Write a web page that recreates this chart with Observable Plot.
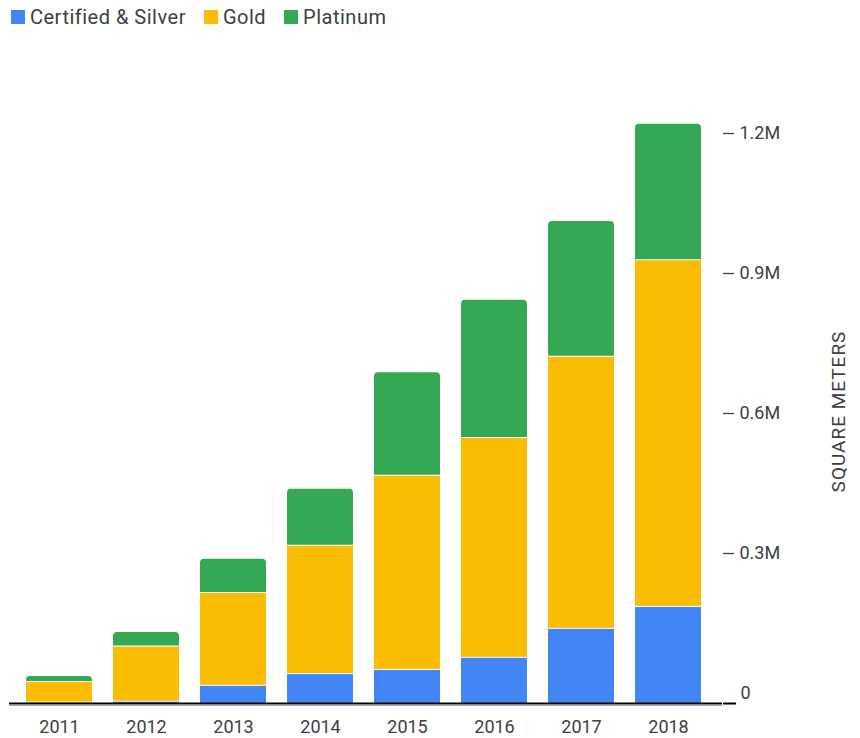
<!DOCTYPE html>
<html>
<head>
<meta charset="utf-8">
<script src="https://cdn.jsdelivr.net/npm/d3@7"></script>
<script src="https://cdn.jsdelivr.net/npm/@observablehq/plot@0.6"></script>
<style>
  html, body { margin: 0; padding: 0; background: #fff; }
  body { width: 860px; height: 738px; overflow: hidden; font-family: Roboto, "Noto Sans", sans-serif; }
  #legend { height: 34px; display: flex; align-items: center; padding-left: 11px; font-size: 20px; letter-spacing: 0.5px; color: #3c4043; }
  #legend .item { display: flex; align-items: center; margin-right: 18px; }
  #legend .sw { width: 14px; height: 14px; margin-right: 5px; }
  #chart svg { display: block; }
  #chart .ylabel text { letter-spacing: 1px; }
</style>
</head>
<body>
<div id="legend"></div>
<div id="chart"></div>
<script>
const years = ["2011", "2012", "2013", "2014", "2015", "2016", "2017", "2018"];
const seriesNames = ["Certified & Silver", "Gold", "Platinum"];
const seriesColors = ["#4285F4", "#FBBC04", "#34A853"];
const silver   = [3000, 5000, 39000, 64000, 73000, 99000, 161000, 208000];
const gold     = [44000, 118000, 199000, 275000, 416000, 471000, 583000, 743000];
const platinum = [11000, 29000, 71000, 120000, 220000, 294000, 289000, 290000];
const yTicks = [300000, 600000, 900000, 1200000];
const yTickLabels = ["0.3M", "0.6M", "0.9M", "1.2M"];
const yLabel = "SQUARE METERS";

const valuesBySeries = [silver, gold, platinum];
const data = [];
seriesNames.forEach((s, i) => years.forEach((yr, j) => data.push({year: yr, series: s, value: valuesBySeries[i][j]})));

// legend
const legend = document.getElementById("legend");
seriesNames.forEach((s, i) => {
  const it = document.createElement("div");
  it.className = "item";
  it.innerHTML = `<div class="sw" style="background:${seriesColors[i]}"></div><span>${s}</span>`;
  legend.appendChild(it);
});

const fmt = d => yTickLabels[yTicks.indexOf(d)] ?? String(d);

const chart = Plot.plot({
  width: 860,
  height: 704,
  marginLeft: 9,
  marginRight: 138,
  marginTop: 109,
  marginBottom: 35,
  style: {fontFamily: "Roboto, 'Noto Sans', sans-serif", fontSize: "18px", color: "#3c4043", background: "#fff"},
  x: {domain: years, paddingInner: 0.238, paddingOuter: 0.175, align: 0.456, label: null},
  y: {domain: [0, 1200000], label: null},
  color: {domain: seriesNames, range: seriesColors},
  marks: [
    Plot.barY(data.filter(d => d.series !== "Platinum"), Plot.stackY({x: "year", y: "value", fill: "series", insetTop: 1})),
    Plot.barY(data, Plot.stackY({x: "year", y: "value", fill: "series", fillOpacity: d => d.series === "Platinum" ? 1 : 0, ry1: 4})),
    Plot.ruleY([0], {stroke: "#aaa", strokeWidth: 1, dy: 2}),
    Plot.ruleY([0], {stroke: "#000", strokeWidth: 2}),
    Plot.axisX({tickSize: 0, tickPadding: 17, fontSize: 18, fill: "#3c4043"}),
    Plot.axisY(yTicks, {anchor: "right", tickSize: 11, tickPadding: 6, tickFormat: fmt, dy: -10, stroke: "#3c4043", strokeWidth: 1.3, fill: "#3c4043", fontSize: 18, label: null}),
    Plot.axisY([0], {anchor: "right", tickSize: 0, tickPadding: 18, tickFormat: fmt, dy: -10, fill: "#3c4043", fontSize: 18, label: null}),
    Plot.axisY([0], {anchor: "right", tickSize: 13, tickFormat: () => "", stroke: "#000", strokeWidth: 2, label: null}),
    Plot.text([yLabel], {frameAnchor: "right", textAnchor: "middle", rotate: -90, dx: 116, dy: -12, fontSize: 19, className: "ylabel", fill: "#3c4043"})
  ]
});
document.getElementById("chart").appendChild(chart);
</script>
</body>
</html>
